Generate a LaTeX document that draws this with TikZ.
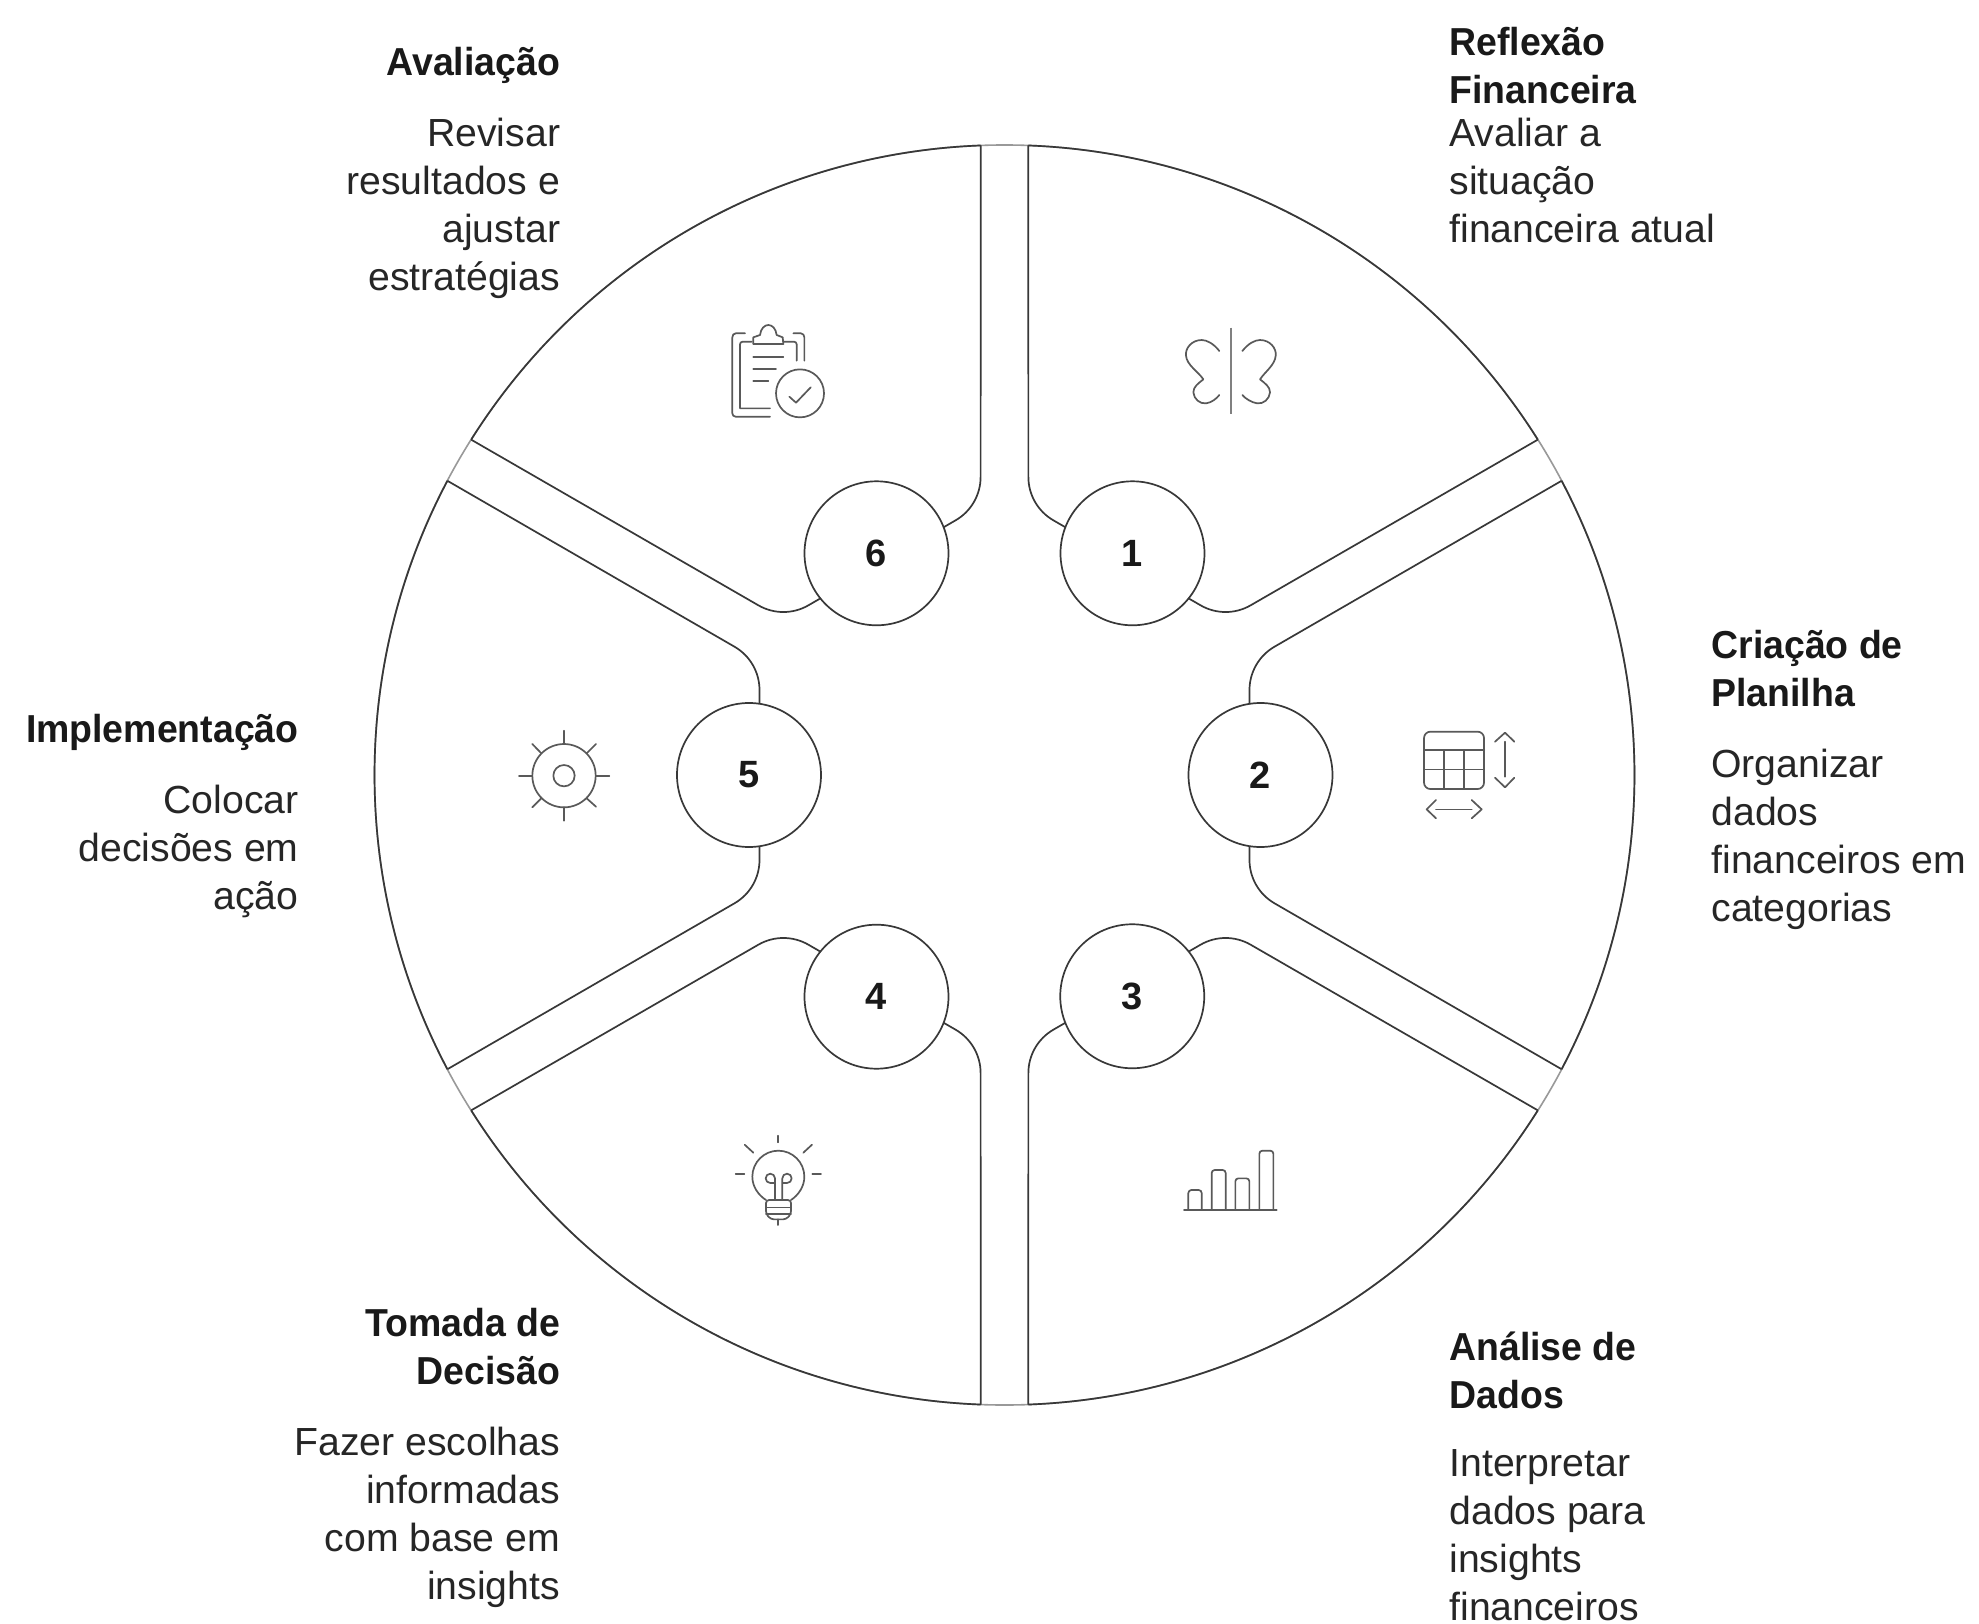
\documentclass[tikz,border=0pt]{standalone}
\usepackage{fontspec}
\setmainfont{Liberation Sans}
\newfontfamily\ttlfont[FakeStretch=0.96,BoldFont={* Bold}]{Liberation Sans}
\newcommand{\lstrut}{\rule[-7pt]{0pt}{24pt}}
\newcommand{\lastlinestrut}{\rule{0pt}{17pt}}
\tikzset{
  wall/.style={draw=black!78,line width=0.85pt},
  gaparc/.style={draw=black!40,line width=0.8pt},
  numdisc/.style={circle,draw=black!78,line width=0.85pt,fill=white,minimum size=72pt,inner sep=0pt,font=\fontsize{19}{23}\selectfont\bfseries,text=black!90},
  ttl/.style={inner sep=0pt,font=\fontsize{19.5}{24}\selectfont\ttlfont\bfseries,text=black!90},
  desc/.style={inner sep=0pt,font=\fontsize{19.6}{24}\selectfont,text=black!85},
  lft/.style={anchor=north west,align=left},
  rgt/.style={anchor=north east,align=right},
  icon/.style={draw=black!65,line width=0.85pt,line cap=round,line join=round},
}
\begin{document}
\begin{tikzpicture}[x=0.5pt,y=0.5pt]
\useasboundingbox (-1004.5,-848) rectangle (974.5,775);
\fill[white] (-1004.5,-848) rectangle (974.5,775);
\draw[gaparc] (0,0) circle (630);
\foreach \r in {0,60,120,180,240,300}{
  \begin{scope}[rotate=\r]
    \draw[wall] (27.84:630) -- (270,128.3) arc[start angle=120,end angle=180,radius=50] -- (245,60);
    \draw[wall] (245,-60) -- (245,-85) arc[start angle=180,end angle=240,radius=50] -- (-27.84:630);
    \draw[wall] (-27.84:630) arc[start angle=-27.84,end angle=27.84,radius=630];
  \end{scope}
}
\node[numdisc] (n2) at (0:256) {2};
\node[numdisc] (n1) at (60:256) {1};
\node[numdisc] (n6) at (120:256) {6};
\node[numdisc] (n5) at (180:255.5) {5};
\node[numdisc] (n4) at (240:256) {4};
\node[numdisc] (n3) at (300:255.5) {3};

% texts
\node[ttl,rgt] (t6) at ({560.5-1004.5},{775-41}) {\lstrut Avaliação};
\node[desc,rgt] (d6) at ({560.5-1004.5},{775-112.5}) {\lstrut Revisar\\\lstrut resultados e\\\lstrut ajustar\\\lstrut estratégias};
\node[ttl,lft] (t1) at ({1449-1004.5},{775-21.6}) {\lstrut Reflexão\\\lstrut Financeira};
\node[desc,lft] (d1) at ({1449-1004.5},{775-112.5}) {\lstrut Avaliar a\\\lstrut situação\\\lstrut financeira atual};
\node[ttl,lft] (t2) at ({1711-1004.5},{775-624}) {\lstrut Criação de\\\lstrut Planilha};
\node[desc,lft] (d2) at ({1711-1004.5},{775-743}) {\lstrut Organizar\\\lstrut dados\\\lstrut financeiros em\\\lstrut categorias};
\node[ttl,rgt] (t5) at ({299-1004.5},{775-708}) {\lstrut Implementação};
\node[desc,rgt] (d5) at ({299-1004.5},{775-779}) {\lstrut Colocar\\\lstrut decisões em\\\lstrut ação};
\node[ttl,rgt] (t4) at ({560.5-1004.5},{775-1301.6}) {\lstrut Tomada de\\\lstrut Decisão};
\node[desc,rgt] (d4) at ({560.5-1004.5},{775-1421.5}) {\lstrut Fazer escolhas\\\lstrut informadas\\\lstrut com base em\\\lstrut insights};
\node[ttl,lft] (t3) at ({1449-1004.5},{775-1325.6}) {\lstrut Análise de\\\lstrut Dados};
\node[desc,lft] (d3) at ({1449-1004.5},{775-1442}) {\lstrut Interpretar\\\lstrut dados para\\\lstrut insights\\\lastlinestrut financeiros};

% clipboard icon
\begin{scope}[shift={({700-1004.5},{775-300})},x=0.1667pt,y=-0.1667pt,icon]
  \draw (135,100) -- (107,100) to[out=180,in=90] (97,112) -- (97,340) to[out=-90,in=180] (107,350) -- (210,350);
  \draw (280,100) -- (303,100) to[out=0,in=90] (313,112) -- (313,182);
  \draw (155,125) -- (128,125) to[out=180,in=90] (120,133) -- (120,325) -- (210,325);
  \draw (250,125) -- (282,125) to[out=0,in=90] (290,133) -- (290,182);
  \draw (160,132) -- (250,132) -- (248,112) -- (230,105) .. controls (225,65) and (185,65) .. (180,105) -- (160,112) -- cycle;
  \draw (160,172) -- (250,172);
  \draw (160,207) -- (228,207);
  \draw (160,243) -- (205,243);
  \draw (300,280) circle (72);
  \draw (268,290) -- (288,308) -- (332,262);
\end{scope}
% butterfly icon
\begin{scope}[shift={({1160-1004.5},{775-290})},x=0.1667pt,y=-0.1667pt,icon]
  \draw[line width=1pt,draw=black!50,line cap=butt] (213,113) -- (213,372);
  \draw (178,183) .. controls (160,160) and (140,150) .. (125,150) .. controls (95,150) and (75,175) .. (78,197) .. controls (80,225) and (115,245) .. (130,268) .. controls (115,280) and (100,290) .. (100,307) .. controls (102,328) and (120,342) .. (138,340) .. controls (155,338) and (170,325) .. (178,315);
  \draw (247,183) .. controls (265,160) and (285,150) .. (300,150) .. controls (330,150) and (350,175) .. (347,197) .. controls (345,225) and (315,245) .. (300,268) .. controls (315,280) and (330,290) .. (330,307) .. controls (328,328) and (310,342) .. (292,340) .. controls (275,338) and (255,325) .. (247,315);
\end{scope}
% table icon
\begin{scope}[shift={({1400-1004.5},{775-710})},x=0.1667pt,y=-0.1667pt,icon]
  \draw[rounded corners=3.2pt] (72,65) rectangle (252,237);
  \draw[line width=1pt] (72,120) -- (252,120);
  \draw (72,178) -- (252,178);
  \draw (132,120) -- (132,237);
  \draw (192,120) -- (192,237);
  \draw (315,95) -- (315,200);
  \draw (285,95) -- (315,68) -- (343,95);
  \draw (285,203) -- (315,232) -- (343,203);
  \draw (108,298) -- (215,298);
  \draw (108,270) -- (80,298) -- (108,325);
  \draw (215,270) -- (245,298) -- (215,325);
\end{scope}
% sun gear icon
\begin{scope}[shift={({500-1004.5},{775-700})},x=0.1667pt,y=-0.1667pt,icon]
  \draw (192,227) circle (95);
  \draw (192,227) circle (32);
  \draw (192,92) -- (192,132);
  \draw (192,322) -- (192,362);
  \draw (57,227) -- (97,227);
  \draw (288,227) -- (328,227);
  \draw (260,160) -- (288,132);
  \draw (124,160) -- (97,132);
  \draw (260,295) -- (288,320);
  \draw (124,295) -- (97,322);
\end{scope}
% bulb icon
\begin{scope}[shift={({710-1004.5},{775-1110})},x=0.1667pt,y=-0.1667pt,icon]
  \draw (168,270) .. controls (145,255) and (127,230) .. (127,200) .. controls (127,157) and (162,122) .. (205,122) .. controls (248,122) and (283,157) .. (283,200) .. controls (283,230) and (265,255) .. (243,270);
  \draw[rounded corners=1.5pt] (168,270) -- (243,270) -- (243,312) -- (228,328) -- (183,328) -- (168,312) -- cycle;
  \draw (168,292) -- (243,292);
  \draw (168,312) -- (243,312);
  \draw (205,328) -- (205,345);
  \draw (195,270) -- (195,205) arc[start angle=0,delta angle=-270,radius=14] -- (195,219);
  \draw (217,270) -- (217,205) arc[start angle=180,delta angle=270,radius=14] -- (217,219);
  \draw (205,77) -- (205,97);
  \draw (77,192) -- (103,192);
  \draw (307,192) -- (333,192);
  \draw (104,104) -- (130,128);
  \draw (306,104) -- (280,128);
\end{scope}
% bars icon
\begin{scope}[shift={({1160-1004.5},{775-1130})},x=0.1667pt,y=-0.1667pt,icon]
  \draw[line width=1pt] (72,240) -- (350,240);
  \draw[rounded corners=1.5pt] (85,240) -- (85,180) -- (125,180) -- (125,240);
  \draw[rounded corners=1.5pt] (155,240) -- (155,120) -- (197,120) -- (197,240);
  \draw[rounded corners=1.5pt] (226,240) -- (226,145) -- (268,145) -- (268,240);
  \draw[rounded corners=1.5pt] (298,240) -- (298,62) -- (340,62) -- (340,240);
\end{scope}
\end{tikzpicture}
\end{document}
